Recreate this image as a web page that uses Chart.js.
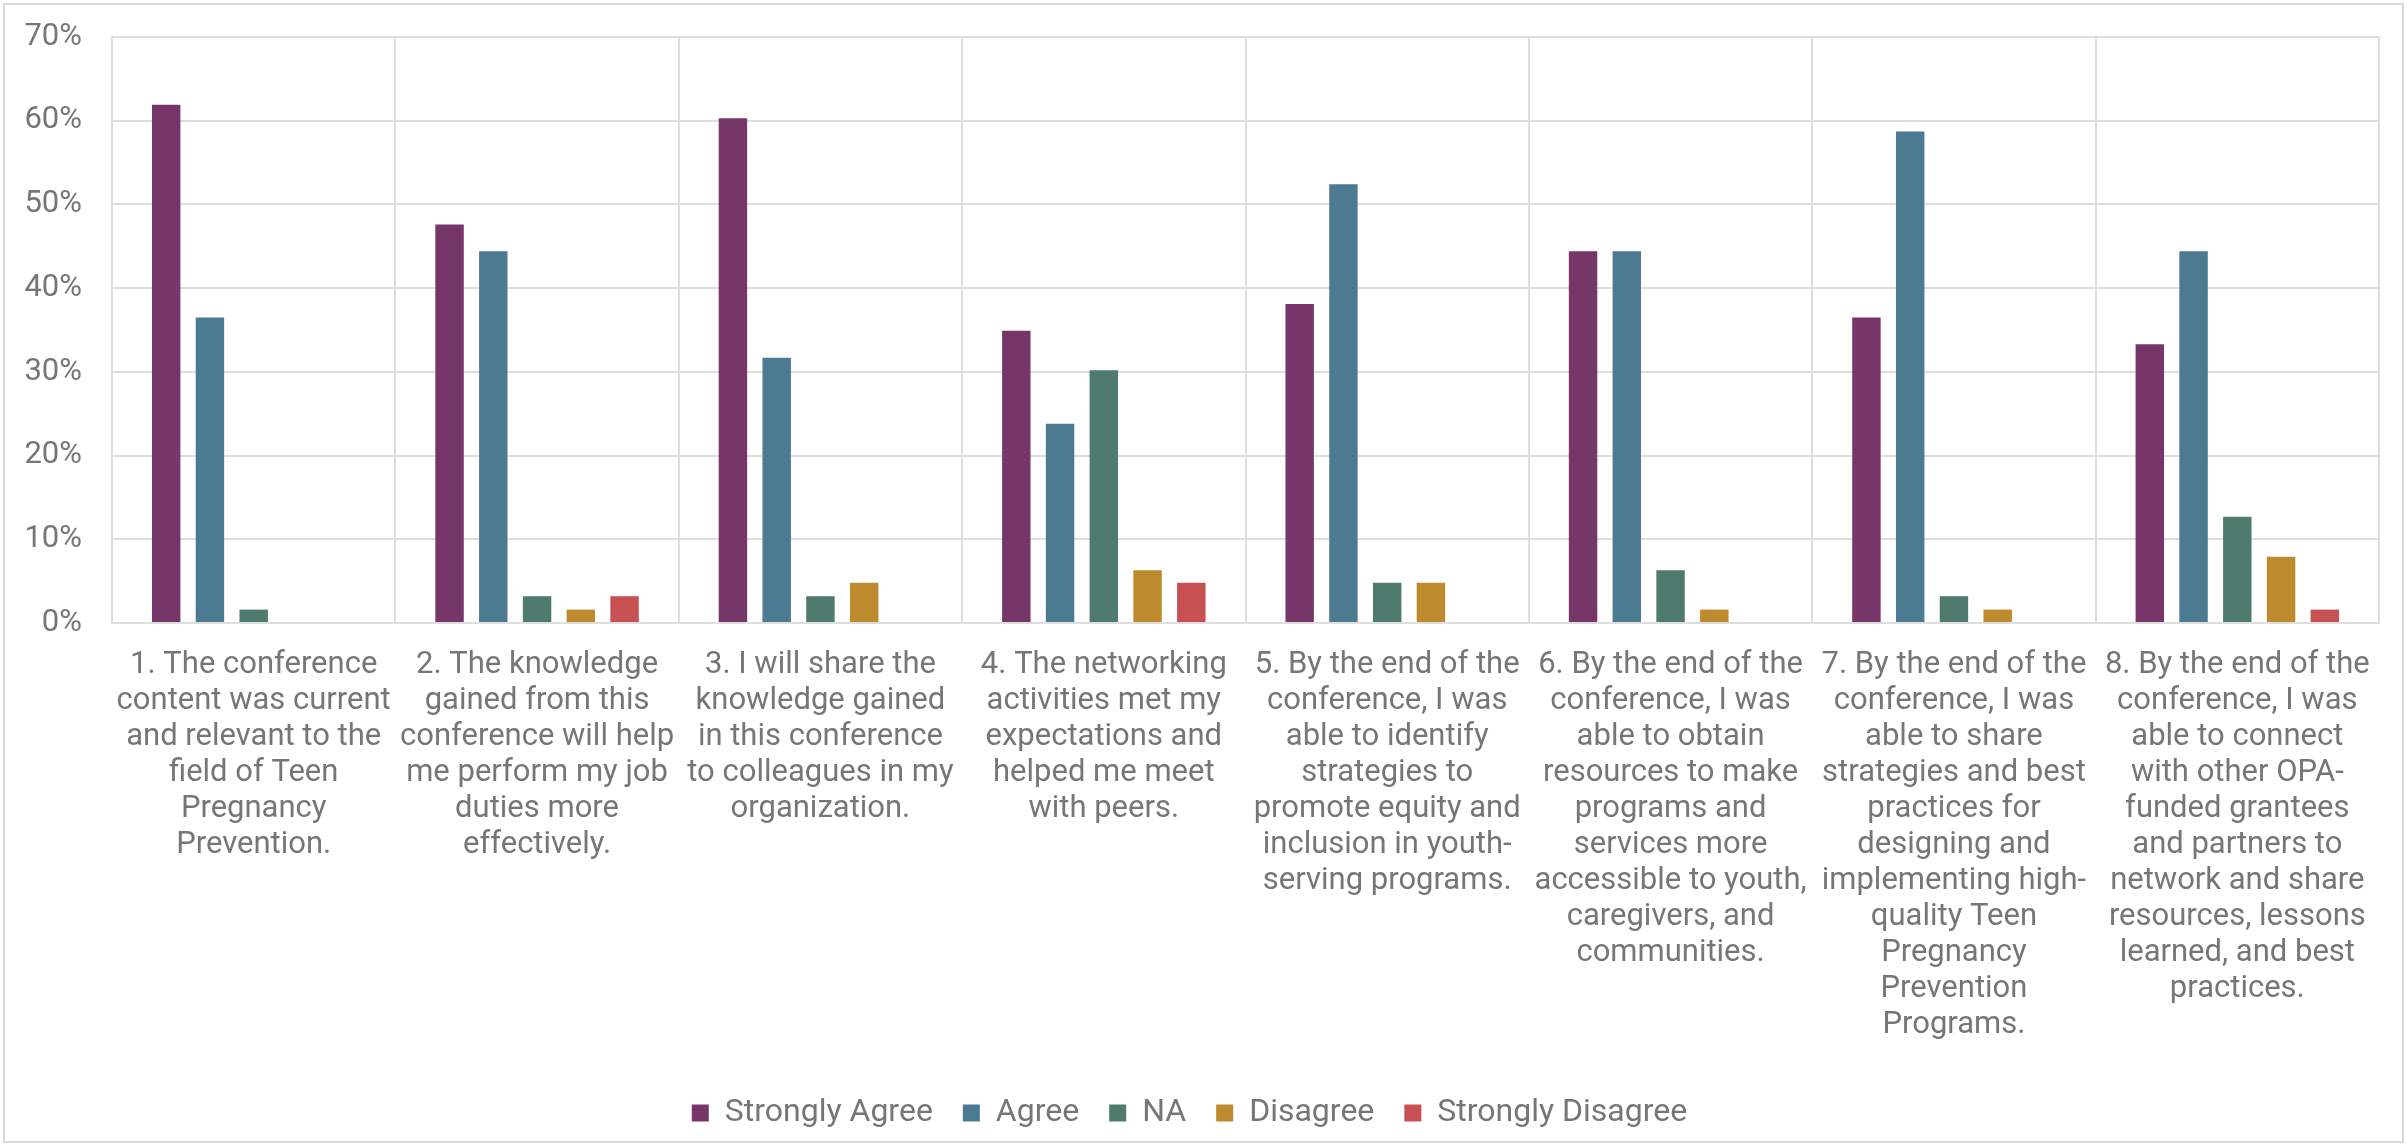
<!DOCTYPE html>
<html>
<head>
<meta charset="utf-8">
<script src="https://cdn.jsdelivr.net/npm/chart.js@4.4.1/dist/chart.umd.min.js"></script>
<style>
  html, body { margin: 0; padding: 0; background: #fff; }
  #wrap { position: relative; width: 2407px; height: 1146px; }
</style>
</head>
<body>
<div id="wrap"><canvas id="grafik"></canvas></div>
<script>
// Kategoriler (satır satır bölünmüş)
var kategoriler = [
    ['1. The conference', 'content was current', 'and relevant to the', 'field of Teen', 'Pregnancy', 'Prevention.'],
    ['2. The knowledge', 'gained from this', 'conference will help', 'me perform my job', 'duties more', 'effectively.'],
    ['3. I will share the', 'knowledge gained', 'in this conference', 'to colleagues in my', 'organization.'],
    ['4. The networking', 'activities met my', 'expectations and', 'helped me meet', 'with peers.'],
    ['5. By the end of the', 'conference, I was', 'able to identify', 'strategies to', 'promote equity and', 'inclusion in youth-', 'serving programs.'],
    ['6. By the end of the', 'conference, I was', 'able to obtain', 'resources to make', 'programs and', 'services more', 'accessible to youth,', 'caregivers, and', 'communities.'],
    ['7. By the end of the', 'conference, I was', 'able to share', 'strategies and best', 'practices for', 'designing and', 'implementing high-', 'quality Teen', 'Pregnancy', 'Prevention', 'Programs.'],
    ['8. By the end of the', 'conference, I was', 'able to connect', 'with other OPA-', 'funded grantees', 'and partners to', 'network and share', 'resources, lessons', 'learned, and best', 'practices.']
];

// Seri değerleri (%)
var stronglyAgree    = [61.9, 47.6, 60.3, 34.9, 38.1, 44.4, 36.5, 33.3];
var agree            = [36.5, 44.4, 31.7, 23.8, 52.4, 44.4, 58.7, 44.4];
var na               = [1.6, 3.2, 3.2, 30.2, 4.8, 6.3, 3.2, 12.7];
var disagree         = [0, 1.6, 4.8, 6.3, 4.8, 1.6, 1.6, 7.9];
var stronglyDisagree = [0, 3.2, 0, 4.8, 0, 0, 0, 1.6];

var seriAdlari = ['Strongly Agree', 'Agree', 'NA', 'Disagree', 'Strongly Disagree'];
var yTicks = [0, 10, 20, 30, 40, 50, 60, 70];

var renkler = ['#773669', '#4C7A91', '#4F7A6E', '#BD8A2D', '#C75052'];
var seriler = [stronglyAgree, agree, na, disagree, stronglyDisagree];

var yaziRengi = '#767676';
var cizgiRengi = '#dedede';
var font = 'Roboto';

// Dış çerçeve
var cerceve = {
    id: 'cerceve',
    afterDraw: function(chart) {
        var ctx = chart.ctx;
        ctx.save();
        ctx.strokeStyle = '#d9d9d9';
        ctx.lineWidth = 2;
        ctx.strokeRect(4, 4, chart.width - 8, chart.height - 8);
        ctx.restore();
    }
};

var ctx = document.getElementById('grafik').getContext('2d');

new Chart(ctx, {
    type: 'bar',
    data: {
        labels: kategoriler,
        datasets: seriler.map(function(d, i) {
            return {
                label: seriAdlari[i],
                data: d,
                backgroundColor: renkler[i],
                borderWidth: 0,
                categoryPercentage: 0.772,
                barPercentage: 0.65
            };
        })
    },
    options: {
        responsive: true,
        maintainAspectRatio: false,
        animation: false,
        devicePixelRatio: 1,
        layout: {
            padding: { top: 37, right: 28, bottom: 7, left: 0 }
        },
        scales: {
            y: {
                min: 0,
                max: 70,
                afterFit: function(scale) {
                    scale.width = 112;
                    scale.paddingTop = 0;
                    scale.paddingBottom = 0;
                },
                afterBuildTicks: function(scale) {
                    scale.ticks = yTicks.map(function(v) { return { value: v }; });
                },
                grid: { color: cizgiRengi, lineWidth: 2, drawTicks: false },
                border: { display: true, color: cizgiRengi, width: 2 },
                ticks: {
                    padding: 30,
                    color: yaziRengi,
                    font: { family: font, size: 31 },
                    callback: function(v) { return v + '%'; }
                }
            },
            x: {
                grid: { color: cizgiRengi, lineWidth: 2, drawTicks: false, offset: true },
                border: { display: true, color: cizgiRengi, width: 2 },
                ticks: {
                    padding: 24,
                    color: yaziRengi,
                    autoSkip: false,
                    maxRotation: 0,
                    minRotation: 0,
                    font: { family: font, size: 31, lineHeight: '36px' }
                }
            }
        },
        plugins: {
            legend: {
                position: 'bottom',
                labels: {
                    color: yaziRengi,
                    boxWidth: 17,
                    boxHeight: 17,
                    padding: 30,
                    font: { family: font, size: 32 }
                }
            },
            tooltip: { enabled: false }
        }
    },
    plugins: [cerceve]
});
</script>
</body>
</html>
